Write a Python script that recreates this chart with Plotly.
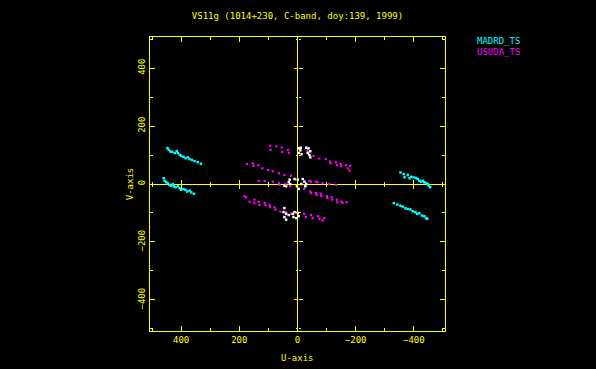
import plotly.graph_objects as go

title_text = "VS11g (1014+230, C-band, doy:139, 1999)"
series_names = ["MADRD_TS", "USUDA_TS"]
tick_vals = [-400, -200, 0, 200, 400]

# MADRD_TS (cyan) uv points
madrd_u = [447, 443, 437, 431, 422, 415, 411, 405, 400, 392, 385, 377, 371, 363, 354, 343, 332,
           460, 457, 451, 446, 440, 434, 428, 425, 419, 411, 405, 400, 392, 385, 379, 371, 365, 356,
           -354, -365, -379, -391, -368, -385, -399, -408, -413, -419, -425, -431, -436, -442, -448, -451, -456,
           -331, -343, -354, -362, -371, -379, -388, -396, -405, -411, -419, -428, -436, -442, -446]
madrd_v = [124, 118, 112, 111, 107, 114, 107, 101, 97, 94, 89, 92, 86, 83, 79, 75, 70,
           20, 11, 6, 2, -3, -6, 0, -8, -11, -8, -15, -20, -17, -20, -26, -23, -29, -34,
           40, 34, 31, 25, 23, 20, 23, 21, 17, 11, 8, 11, 6, 3, 0, -6, -11,
           -66, -71, -75, -78, -84, -86, -88, -94, -97, -103, -101, -109, -111, -118, -120]

# USUDA_TS (magenta) uv points
usuda_u = [94, 73, 54, 33, 93, 53, 30, -34, -55, -75, -97, -112, -114, -132, -135, -149, -151, -166, -172, -181, -178,
           174, 154, 151, 135, 121, 101, 85, 64, 45, 22, 113, 85, 64, 133, 62, 41, 25,
           -40, -46, -63, -69, -86, -109, -132,
           -23, -44, -46, -63, -66, -80, -82, -101, -103, -117, -120, -135, -137, -151, -155, -169,
           182, 176, 165, 148, 148, 133, 131, 113, 110, 96, 94, 79, 76, 59, 39, 22,
           -23, -29, -46, -52, -71, -75, -92, -86]
usuda_v = [132, 130, 126, 117, 118, 111, 107, 114, 97, 88, 86, 77, 71, 75, 65, 69, 61, 65, 54, 63, 46,
           69, 71, 63, 65, 54, 48, 44, 37, 31, 29, 11, 8, 3, 11, -3, 0, -8,
           11, 8, 8, 6, 3, 0, -3,
           -17, -26, -31, -31, -38, -34, -42, -42, -48, -46, -54, -54, -63, -61, -65, -63,
           -42, -46, -61, -54, -65, -61, -72, -65, -72, -72, -80, -80, -88, -95, -97, -103,
           -103, -114, -107, -118, -111, -120, -118, -126]

# white points near the centre
white_u = [-4, -11, -10, -4, -14, -30, -38, -44, -35, -41, -44,
           27, 30, 25, 10, -1, -18, -24, -30, -27, -13, 2, -4, 45, 39,
           45, 48, 39, 45, 39, 30, 16, 10, -1, -4, 4, 14]
white_v = [123, 125, 116, 107, 103, 125, 123, 113, 107, 100, 92,
           15, 6, 0, 17, 15, 17, 8, 0, -8, 0, -8, -17, -6, -8,
           -83, -97, -103, -114, -123, -107, -103, -97, -100, -111, -118, -114]

YEL = "#ffff00"
FONT = "DejaVu Sans Mono"
rng = 507

fig = go.Figure()
fig.add_trace(go.Scatter(x=madrd_u, y=madrd_v, mode="markers", name=series_names[0],
                         marker=dict(symbol="square", size=2.5, color="#00ffff", line=dict(width=0))))
fig.add_trace(go.Scatter(x=usuda_u, y=usuda_v, mode="markers", name=series_names[1],
                         marker=dict(symbol="square", size=2.2, color="#ff00ff", line=dict(width=0))))
fig.add_trace(go.Scatter(x=white_u, y=white_v, mode="markers", showlegend=False,
                         marker=dict(symbol="square", size=2.5, color="#ffffff", line=dict(width=0))))

common = dict(showgrid=False, color=YEL, linecolor=YEL, linewidth=1, tickcolor=YEL,
              tickwidth=1, tickfont=dict(family=FONT, size=9, color=YEL), automargin=False)

fig.update_layout(
    width=596, height=369,
    paper_bgcolor="black", plot_bgcolor="black",
    margin=dict(l=150, r=151, t=37, b=38),
    showlegend=False,
    title=dict(text=title_text, x=0.5, xref="paper", xanchor="center",
               y=1 - 16 / 369, yref="container", yanchor="middle",
               font=dict(family=FONT, size=9, color=YEL)),
    xaxis=dict(range=[rng, -rng], tickvals=tick_vals, ticks="inside", ticklen=5,
               showline=True, mirror="ticks", zeroline=True, zerolinecolor=YEL, zerolinewidth=1,
               minor=dict(dtick=100, tick0=0, ticks="inside", ticklen=3, tickcolor=YEL),
               **common),
    yaxis=dict(range=[-rng, rng], tickvals=tick_vals, ticks="inside", ticklen=5, tickangle=-90,
               showline=True, mirror="ticks", zeroline=True, zerolinecolor=YEL, zerolinewidth=1,
               minor=dict(dtick=100, tick0=0, ticks="inside", ticklen=3, tickcolor=YEL),
               title=dict(text="V-axis", font=dict(family=FONT, size=9, color=YEL), standoff=2),
               **common),
)

# crossing ticks on the zero lines
for i, side in enumerate(["inside", "outside"]):
    fig.update_layout(**{
        f"xaxis{i+2}": dict(overlaying="x", anchor="free", position=0.5, range=[rng, -rng],
                            tickvals=tick_vals, ticks=side, ticklen=4, showticklabels=False,
                            showline=False, showgrid=False, zeroline=False, tickcolor=YEL,
                            automargin=False,
                            minor=dict(dtick=100, tick0=0, ticks=side, ticklen=2, tickcolor=YEL)),
        f"yaxis{i+2}": dict(overlaying="y", anchor="free", position=0.5, range=[-rng, rng],
                            tickvals=tick_vals, ticks=side, ticklen=4, showticklabels=False,
                            showline=False, showgrid=False, zeroline=False, tickcolor=YEL,
                            automargin=False,
                            minor=dict(dtick=100, tick0=0, ticks=side, ticklen=2, tickcolor=YEL)),
    })
    fig.add_trace(go.Scatter(x=[None], y=[None], xaxis=f"x{i+2}", yaxis=f"y{i+2}", showlegend=False))

# x-axis title
fig.add_annotation(text="U-axis", xref="paper", yref="paper", x=0.5, y=-27 / 294,
                   xanchor="center", yanchor="middle", showarrow=False,
                   font=dict(family=FONT, size=9, color=YEL))

# legend as coloured text
for name, col, yy in [(series_names[0], "#00ffff", 0.986), (series_names[1], "#ff00ff", 0.949)]:
    fig.add_annotation(text=name, xref="paper", yref="paper", x=1.1017, y=yy,
                       xanchor="left", yanchor="middle", showarrow=False,
                       font=dict(family=FONT, size=9, color=col))

fig.write_html("out.html", config={"displayModeBar": False},
               post_script="document.body.style.margin='0';document.body.style.background='black';")
